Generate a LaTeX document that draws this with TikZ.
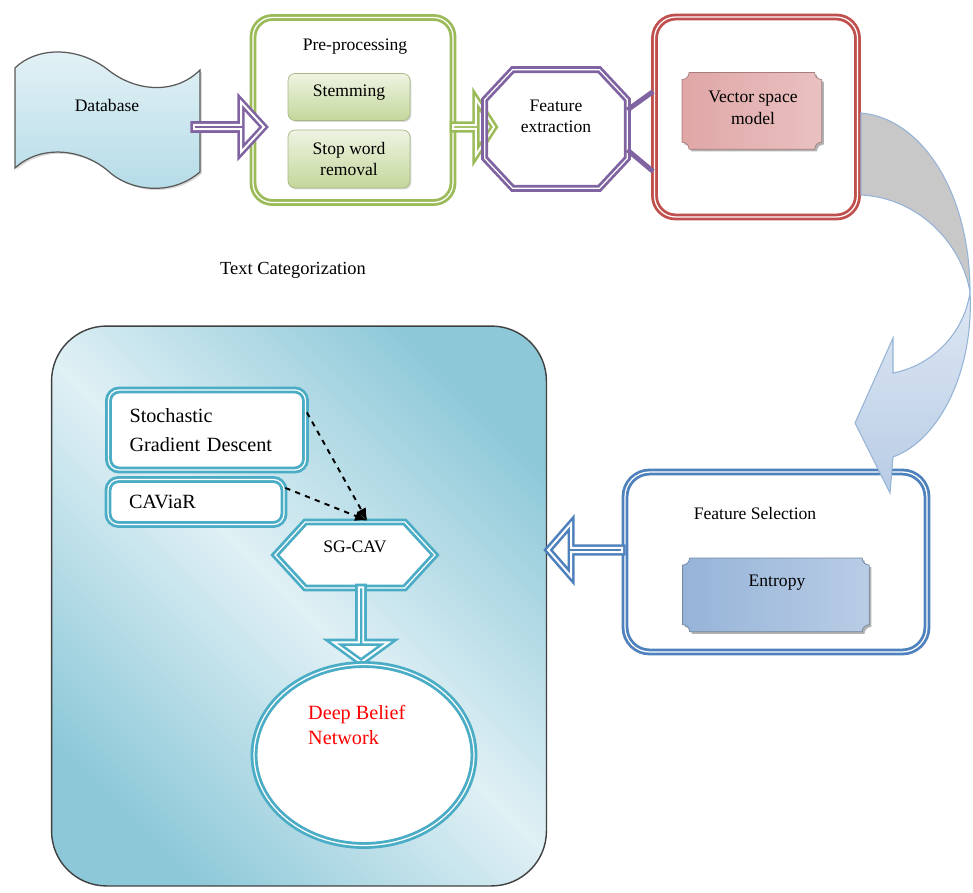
\documentclass[tikz,border=0pt]{standalone}
\usepackage{fontspec}
\setmainfont{Liberation Serif}
\usetikzlibrary{shapes.symbols,shapes.misc,shapes.geometric,shapes.arrows,arrows.meta,shadows,calc,backgrounds}

\definecolor{purp}{RGB}{128,100,162}
\definecolor{grn}{RGB}{155,187,89}
\definecolor{grnL}{RGB}{238,244,226}
\definecolor{grnD}{RGB}{196,215,155}
\definecolor{redb}{RGB}{192,80,77}
\definecolor{pinkD}{RGB}{224,166,166}
\definecolor{pinkL}{RGB}{245,226,226}
\definecolor{blub}{RGB}{79,129,189}
\definecolor{bluD}{RGB}{150,180,216}
\definecolor{bluL}{RGB}{226,234,245}
\definecolor{tealb}{RGB}{75,172,198}
\definecolor{tealD}{RGB}{140,200,216}
\definecolor{tealL}{RGB}{224,240,245}
\definecolor{dbL}{RGB}{228,242,246}
\definecolor{dbD}{RGB}{180,219,231}
\definecolor{arrG}{RGB}{200,200,200}
\definecolor{arrB}{RGB}{149,179,215}
\definecolor{arrL}{RGB}{222,231,243}
\definecolor{arrM}{RGB}{184,204,229}

\pgfdeclarehorizontalshading{panelshade}{100bp}{color(0bp)=(tealD); color(24bp)=(tealD); color(50bp)=(tealL); color(76bp)=(tealD); color(100bp)=(tealD)}

\newcommand\plaqpath{(\x1+4pt,\y1) -- (\x2-4pt,\y1) arc[start angle=180,end angle=270,radius=4pt]
  -- (\x2,\y2+4pt) arc[start angle=90,end angle=180,radius=4pt]
  -- (\x1+4pt,\y2) arc[start angle=0,end angle=90,radius=4pt]
  -- (\x1,\y1-4pt) arc[start angle=270,end angle=360,radius=4pt] -- cycle}

\begin{document}
\begin{tikzpicture}[x=0.02cm, y=-0.02cm, font=\fontsize{10}{12.5}\selectfont,
  dbl/.style={draw=#1, line width=1.6pt, double=white, double distance=0.7pt},
  harr/.style={single arrow, draw=#1, line width=1.5pt, double=white, double distance=1.1pt, fill=white, inner sep=0pt},
  leaf/.style={draw=grnD!85!black, rounded corners=4pt, top color=grnL, bottom color=grnD, minimum width=2.44cm,
    drop shadow={opacity=.3, shadow xshift=.8pt, shadow yshift=-.8pt}},
  plaq/.style 2 args={path picture={
    \fill[black!30] let \p1=([shift={(1.6pt,-1.6pt)}]path picture bounding box.north west),
      \p2=([shift={(-0.3pt,0.3pt)}]path picture bounding box.south east) in \plaqpath;
    \shadedraw[left color=#1, middle color=#2, right color=#1!55!#2, draw=#1!75!black, line width=.4pt]
      let \p1=([shift={(0.3pt,-0.3pt)}]path picture bounding box.north west),
      \p2=([shift={(-1.6pt,1.6pt)}]path picture bounding box.south east) in \plaqpath;}},
  tbox/.style={dbl=tealb, fill=white, rounded corners=6pt, align=left, inner xsep=0.42cm,
    font=\fontsize{11.5}{16.5}\selectfont},
  link/.style={purp, line width=2.8pt},
  dsh/.style={dashed, line width=1.1pt, -{Latex[length=7pt,width=6pt]}}]
\useasboundingbox (0,0) rectangle (973,892);

\node[minimum width=3.7cm, minimum height=2.0cm, text depth=17pt] (db) at (107,120) {Database};
\begin{scope}[on background layer]
\draw[black!65, line width=.7pt, top color=dbL, bottom color=dbD, drop shadow={opacity=.3, shadow xshift=1pt, shadow yshift=-1pt}]
  (15,68) .. controls (35,48) and (75,45) .. (107,69) .. controls (135,92) and (175,95) .. (200,70)
  -- (200,172) .. controls (172,196) and (130,192) .. (107,170) .. controls (80,148) and (40,145) .. (15,168) -- cycle;
\end{scope}

\node[dbl=grn, rounded corners=11pt, minimum width=4.0cm, minimum height=3.7cm] (pre) at (353,110) {};
\node (pretitle) at (355,47) {Pre-processing};
\node[leaf, minimum height=0.94cm, text depth=7pt] (stem) at (349,97) {Stemming};
\node[leaf, minimum height=1.16cm, align=center] (stop) at (349,159) {Stop word\\removal};

\node[harr=purp, minimum height=1.4cm, minimum width=1.0cm, single arrow head extend=0.28cm,
  single arrow tip angle=95] (a1) at (228,127) {};
\node[harr=grn, minimum height=0.82cm, minimum width=1.12cm, single arrow head extend=0.36cm,
  single arrow tip angle=114] (a2) at (473,127) {};

\node[minimum width=2.84cm, minimum height=2.36cm, align=center, text depth=14.5pt] (fe) at (556,129) {Feature\\extraction};
\draw[dbl=purp] ($(fe.north west)+(28,0)$) -- ($(fe.north east)+(-28,0)$) -- ($(fe.north east)+(0,30)$)
  -- ($(fe.south east)+(0,-30)$) -- ($(fe.south east)+(-28,0)$) -- ($(fe.south west)+(28,0)$)
  -- ($(fe.south west)+(0,-30)$) -- ($(fe.north west)+(0,30)$) -- cycle;

\node[dbl=redb, rounded corners=12pt, minimum width=4.06cm, minimum height=4.0cm] (vsm) at (756,117) {};
\node[plaq={pinkD}{pinkL}, minimum width=2.86cm, minimum height=1.6cm, align=center, text depth=4.5pt] (vsmin) at (753,112) {Vector space\\model};

\draw[link] ([yshift=10.8pt]fe.east) -- ([yshift=14.5pt]vsm.west);
\draw[link] ([yshift=-11.9pt]fe.east) -- ([yshift=-31pt]vsm.west);

\node[font=\fontsize{10.5}{12.5}\selectfont] (tc) at (293,270) {Text Categorization};

\node[shade, shading=panelshade, shading angle=45, draw=black!75, line width=.8pt, rounded corners=1.1cm,
  minimum width=9.9cm, minimum height=11.2cm] (pan) at (299,606) {};

\node[tbox, minimum height=1.6cm, text width=3.1cm] (sgd) at (207,430) {Stochastic\\Gradient Descent};
\node[tbox, minimum height=0.9cm, text width=2.68cm] (cav) at (196,502) {CAViaR};
\node[signal, signal to=west and east, signal pointer angle=95, dbl=tealb, fill=white,
  minimum width=3.2cm, minimum height=1.32cm, text depth=9pt] (sgcav) at (355,555) {SG-CAV};

\draw[dsh] ([yshift=10pt]sgd.east) -- ([xshift=7pt]sgcav.north);
\draw[dsh] ([yshift=8pt]cav.east) -- ([xshift=7pt]sgcav.north);

\node[harr=tealb, minimum height=1.5cm, minimum width=1.1cm, single arrow head extend=0.3cm,
  single arrow tip angle=108, rotate=-90] (a4) at (361,624) {};
\node[ellipse, dbl=tealb, fill=white, minimum width=4.4cm, minimum height=3.62cm] (dbn) at (364,755) {};
\node[anchor=west, align=left, text=red, font=\fontsize{11.5}{14}\selectfont] (dbnt) at (302,725) {Deep Belief\\Network};

\node[dbl=blub, rounded corners=14pt, minimum width=6.04cm, minimum height=3.6cm] (fs) at (776,562) {};
\node (fst) at (755,513) {Feature Selection};
\node[plaq={bluD}{bluL}, minimum width=3.8cm, minimum height=1.54cm, text depth=17.5pt] (ent) at (777,596) {Entropy};
\node[harr=blub, minimum height=1.48cm, minimum width=1.06cm, single arrow head extend=0.31cm,
  single arrow tip angle=98, rotate=180] (a3) at (586,550) {};

\draw[arrB, fill=arrG, line width=.6pt] (861,113) .. controls (920,118) and (970,190) .. (970,292)
  .. controls (962,245) and (920,198) .. (861,195) -- cycle;
\draw[arrB, top color=arrL, bottom color=arrM, line width=.6pt] (970,292) .. controls (974,370) and (940,440) .. (893,457)
  -- (890,493) -- (855,423) -- (893,338) -- (893,373) .. controls (935,365) and (965,330) .. (970,292) -- cycle;
\end{tikzpicture}
\end{document}
